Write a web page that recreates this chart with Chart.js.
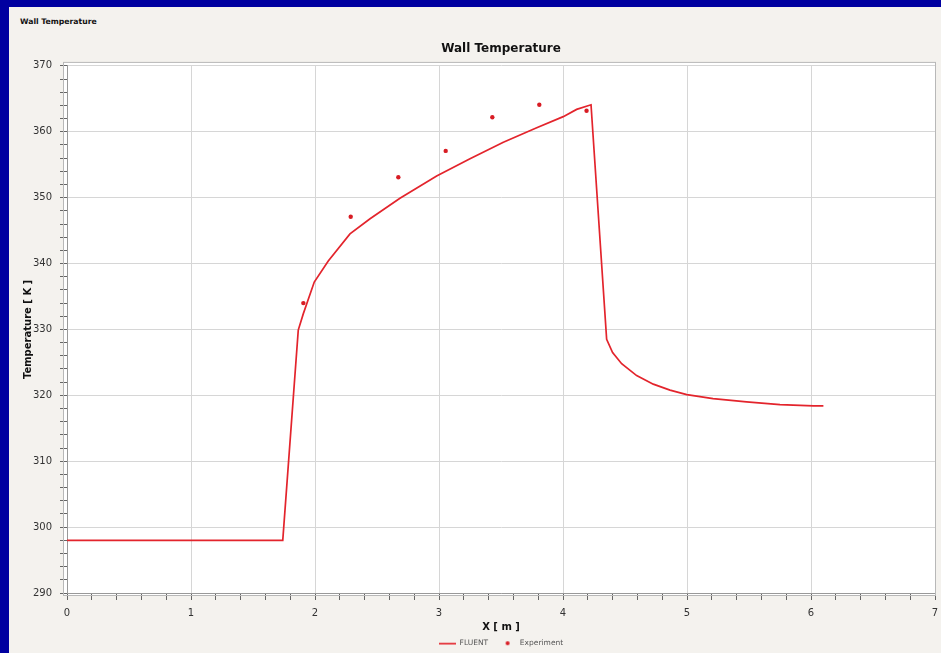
<!DOCTYPE html>
<html>
<head>
<meta charset="utf-8">
<title>Wall Temperature</title>
<script src="https://cdn.jsdelivr.net/npm/chart.js@4.4.1/dist/chart.umd.min.js"></script>
<style>
  html, body { margin: 0; padding: 0; }
  body { width: 941px; height: 653px; background: #0000a0; position: relative; overflow: hidden; }
  #panel { position: absolute; left: 9px; top: 7px; width: 932px; height: 646px; background: #f4f2ee; }
  #caption { position: absolute; left: 11px; top: 10px; font: bold 7.7px "DejaVu Sans", sans-serif; color: #111; }
  #wrap { position: absolute; left: 0; top: 0; width: 932px; height: 650px; }
</style>
</head>
<body>
<div id="panel">
  <div id="caption">Wall Temperature</div>
  <div id="wrap"><canvas id="chart-wall"></canvas></div>
</div>
<script>
// Wall temperature along X: FLUENT result vs measured points

const fluentX = [0, 1.74, 1.865, 1.906, 1.994, 2.107, 2.282, 2.444, 2.685, 2.981, 3.25, 3.519, 3.788, 4.002, 4.11, 4.226,
  4.352, 4.40, 4.473, 4.594, 4.728, 4.863, 4.998, 5.21, 5.48, 5.75, 6.02, 6.10];
const fluentT = [298, 298, 329.9, 332.4, 337.2, 340.4, 344.5, 346.8, 349.9, 353.3, 355.9, 358.4, 360.6, 362.3, 363.4, 364.1,
  328.5, 326.5, 324.8, 323.0, 321.7, 320.8, 320.1, 319.5, 319.0, 318.6, 318.4, 318.4];

const expX = [1.906, 2.288, 2.672, 3.054, 3.43, 3.809, 4.19];
const expT = [334.0, 347.1, 353.1, 357.1, 362.2, 364.1, 363.2];

const seriesNames = ["FLUENT", "Experiment"];

const RED = "#e3242c";
const FONT = "'DejaVu Sans', sans-serif";

// little legend glyphs: a short line and a dot
function makeGlyph(w, h, draw) {
  const c = document.createElement("canvas");
  c.width = w;
  c.height = h;
  draw(c.getContext("2d"));
  return c;
}
const lineGlyph = makeGlyph(17, 3, (g) => {
  g.fillStyle = RED;
  g.fillRect(0, 1, 17, 1.5);
});
const dotGlyph = makeGlyph(6, 6, (g) => {
  g.fillStyle = "#d81c24";
  g.beginPath();
  g.arc(3, 3, 2, 0, Math.PI * 2);
  g.fill();
});

const isWhole = (v, step) => Math.abs(v / step - Math.round(v / step)) < 1e-6;

const plotFrame = {
  id: "plotFrame",
  beforeDraw(chart) {
    const { ctx, chartArea: a } = chart;
    ctx.save();
    ctx.fillStyle = "#ffffff";
    ctx.fillRect(a.left - 3, a.top - 3, a.right - a.left + 4, a.bottom - a.top + 6);
    ctx.restore();
  },
  afterDraw(chart) {
    const { ctx, chartArea: a } = chart;
    ctx.save();
    ctx.strokeStyle = "#b8b8b8";
    ctx.lineWidth = 1;
    ctx.strokeRect(a.left - 3.5, a.top - 3.5, a.right - a.left + 4, a.bottom - a.top + 6);
    ctx.restore();
  },
};

new Chart(document.getElementById("chart-wall"), {
  type: "scatter",
  data: {
    datasets: [
      {
        label: seriesNames[0],
        data: fluentX.map((x, i) => ({ x, y: fluentT[i] })),
        showLine: true,
        borderColor: RED,
        borderWidth: 1.7,
        pointRadius: 0,
        tension: 0,
        fill: false,
      },
      {
        label: seriesNames[1],
        data: expX.map((x, i) => ({ x, y: expT[i] })),
        showLine: false,
        pointRadius: 2.2,
        pointBorderWidth: 0,
        backgroundColor: "#d81c24",
        borderColor: "#d81c24",
      },
    ],
  },
  plugins: [plotFrame],
  options: {
    responsive: true,
    maintainAspectRatio: false,
    animation: false,
    layout: { padding: { left: 0, right: 6, top: 0, bottom: 0 } },
    scales: {
      x: {
        type: "linear",
        min: 0,
        max: 7,
        afterFit: (scale) => {
          scale.height = 35.5;
          scale.paddingLeft = 0;
          scale.paddingRight = 0;
        },
        ticks: {
          stepSize: 0.2,
          autoSkip: false,
          maxRotation: 0,
          padding: 7,
          color: "#333",
          font: { family: FONT, size: 10 },
          callback: (v) => (isWhole(v, 1) ? Math.round(v) : ""),
        },
        grid: {
          color: (ctx) => (ctx.tick && isWhole(ctx.tick.value, 1) ? "#d6d6d6" : "rgba(0,0,0,0)"),
          tickColor: "#666",
          tickLength: 7,
        },
        border: { color: "#999" },
        title: {
          display: true,
          text: "X [ m ]",
          color: "#111",
          font: { family: FONT, size: 10, weight: "bold" },
          padding: { top: 0, bottom: -4.5 },
        },
      },
      y: {
        type: "linear",
        min: 290,
        max: 370,
        afterFit: (scale) => { scale.width = 58; },
        ticks: {
          stepSize: 2,
          autoSkip: false,
          padding: 8,
          color: "#333",
          font: { family: FONT, size: 10 },
          callback: (v) => (isWhole(v, 10) ? Math.round(v) : ""),
        },
        grid: {
          color: (ctx) => (ctx.tick && isWhole(ctx.tick.value, 10) ? "#d6d6d6" : "rgba(0,0,0,0)"),
          tickColor: "#666",
          tickLength: 7,
        },
        border: { color: "#999" },
        title: {
          display: true,
          text: "Temperature [ K ]",
          color: "#111",
          font: { family: FONT, size: 10, weight: "bold" },
          padding: { top: 13, bottom: 0 },
        },
      },
    },
    plugins: {
      title: {
        display: true,
        fullSize: false,
        text: "Wall Temperature",
        color: "#111",
        font: { family: FONT, size: 12, weight: "bold" },
        padding: { top: 35, bottom: 9.5 },
      },
      legend: {
        position: "bottom",
        fullSize: false,
        labels: {
          usePointStyle: true,
          pointStyleWidth: 17,
          boxHeight: 7,
          padding: 11,
          color: "#555",
          font: { family: FONT, size: 7.5 },
          generateLabels: (chart) => {
            const items = Chart.defaults.plugins.legend.labels.generateLabels(chart);
            items.forEach((it, i) => { it.pointStyle = i === 0 ? lineGlyph : dotGlyph; });
            return items;
          },
        },
      },
      tooltip: { enabled: false },
    },
  },
});
</script>
</body>
</html>
